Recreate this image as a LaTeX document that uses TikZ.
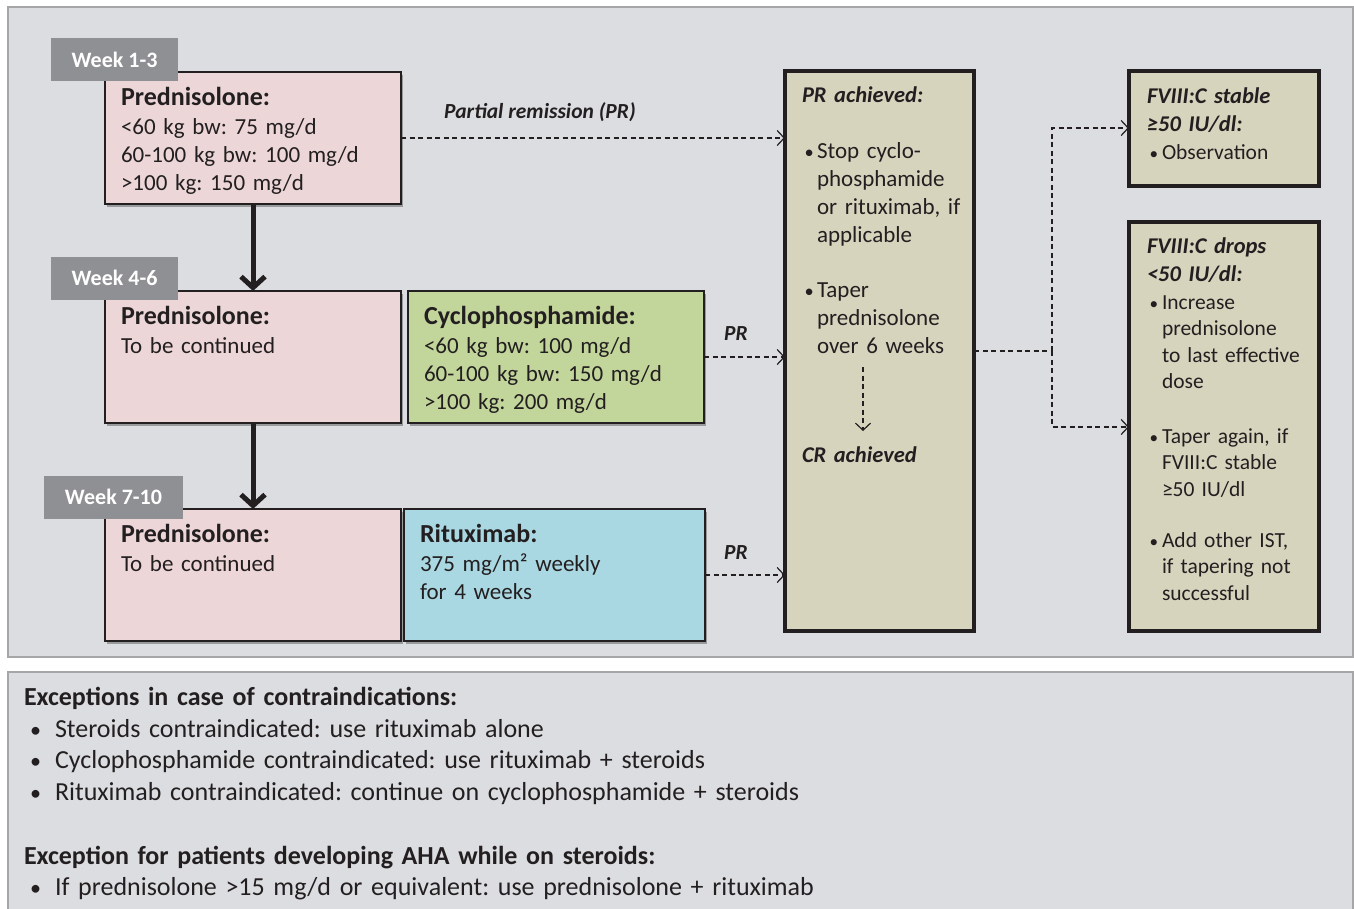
\documentclass[tikz,border=0pt]{standalone}
\usepackage{fontspec}
\setmainfont{Carlito}
\usetikzlibrary{arrows.meta,shadows}
\definecolor{panelbg}{RGB}{220,221,224}
\definecolor{panelline}{RGB}{166,166,168}
\definecolor{weekbg}{RGB}{143,144,148}
\definecolor{pinkbg}{RGB}{236,214,216}
\definecolor{greenbg}{RGB}{194,214,155}
\definecolor{bluebg}{RGB}{170,216,226}
\definecolor{tanbg}{RGB}{215,212,190}
\definecolor{ink}{RGB}{35,31,32}
\newcommand{\fsz}[2]{\fontsize{#1pt}{#2pt}\selectfont}
\newcommand{\bul}{\leavevmode\llap{\makebox[13pt][l]{\hspace{0.5pt}\scalebox{0.8}{•}}}}
\newcommand{\bbul}{\leavevmode\llap{\makebox[25pt][l]{\scalebox{0.85}{•}}}}
\frenchspacing
\begin{document}
\begin{tikzpicture}[x=1pt,y=-1pt,
  panel/.style={draw=panelline,line width=1.5pt,fill=panelbg,anchor=north west,inner sep=0pt,outer sep=0pt},
  week/.style={fill=weekbg,text=white,font=\fsz{22}{26}\bfseries,minimum height=43pt,inner sep=0pt,outer sep=0pt},
  drug/.style={draw=ink,line width=1.3pt,inner sep=0pt,outer sep=0pt,anchor=north west,
     drop shadow={shadow xshift=2pt,shadow yshift=-2.5pt,opacity=0.3,fill=black}},
  result/.style={draw=ink,line width=4pt,fill=tanbg,inner sep=0pt,outer sep=0pt,anchor=north west},
  txt/.style={anchor=base west,inner sep=0pt,outer sep=0pt,align=left,text=ink,text width=#1},
  txt/.default=300pt,
  bigarrow/.style={line width=5pt,draw=ink,-{Straight Barb[length=11pt,width=24pt]}},
  darr/.style={line width=1.2pt,draw=ink,dash pattern=on 5pt off 3.5pt,-{Straight Barb[length=7pt,width=15pt,line width=1.2pt]}},
  dline/.style={line width=1.2pt,draw=ink,dash pattern=on 5pt off 3.5pt},
  lbl/.style={anchor=base west,inner sep=0pt,text=ink,font=\fsz{21.5}{24}\bfseries\itshape},
  hd/.style={txt=#1,font=\fsz{26}{29}\bfseries},
  bd/.style={txt=#1,font=\fsz{23}{28}},
  rhd/.style={txt=#1,font=\fsz{22.5}{28}\bfseries\itshape},
  rbd/.style={txt=#1,font=\fsz{21.5}{26.5}},
]
\useasboundingbox (0,0) rectangle (1354,908);
\fill[white] (0,0) rectangle (1354,908);
\node[panel,minimum width=1345pt,minimum height=650pt] (top) at (8,7) {};
\node[panel,minimum width=1345pt,minimum height=260pt] (bot) at (8,672) {};

% drug boxes
\node[drug,fill=pinkbg,minimum width=296pt,minimum height=132pt] (p1) at (105,72) {};
\node[drug,fill=pinkbg,minimum width=296pt,minimum height=132pt] (p2) at (105,291) {};
\node[drug,fill=pinkbg,minimum width=296pt,minimum height=132pt] (p3) at (105,509) {};
\node[drug,fill=greenbg,minimum width=296pt,minimum height=132pt] (g) at (408,291) {};
\node[drug,fill=bluebg,minimum width=301pt,minimum height=132pt] (b) at (404,509) {};

% result boxes
\node[result,minimum width=189pt,minimum height=560pt] (c) at (785,71) {};
\node[result,minimum width=190pt,minimum height=115pt] (ra) at (1129,71) {};
\node[result,minimum width=190pt,minimum height=409pt] (rb) at (1129,222) {};

% week labels
\node[week,minimum width=127pt] (w1) at (114.5,59.5) {Week 1-3};
\node[week,minimum width=127pt] (w2) at (114.5,278) {Week 4-6};
\node[week,minimum width=139pt] (w3) at (113.5,497) {Week 7-10};

% drug texts
\node[hd] (p1h) at (121,105) {Prednisolone:};
\node[bd] (p1t) at (121,134) {<60 kg bw: 75 mg/d\\60-100 kg bw: 100 mg/d\\>100 kg: 150 mg/d};
\node[hd] (p2h) at (121,324) {Prednisolone:};
\node[bd] (p2t) at (121,353) {To be continued};
\node[hd] (p3h) at (121,542) {Prednisolone:};
\node[bd] (p3t) at (121,571) {To be continued};
\node[hd] (gh) at (424,324) {Cyclophosphamide:};
\node[bd] (gt) at (424,353) {<60 kg bw: 100 mg/d\\60-100 kg bw: 150 mg/d\\>100 kg: 200 mg/d};
\node[hd] (bh) at (420,542) {Rituximab:};
\node[bd] (bt) at (420,571) {375 mg/m² weekly\\for 4 weeks};

% central texts
\node[rhd=170pt] (ch) at (802,102) {PR achieved:};
\node[bd=150pt] (ct) at (817,158) {\bul Stop cyclo-\\phosphamide\\or rituximab, if\\applicable\\[27pt]\bul Taper\\prednisolone\\over 6 weeks};
\node[rhd=170pt] (cr) at (802,462) {CR achieved};
\coordinate (tp) at (863,367);
\coordinate (crtop) at (863,431);
\draw[darr] (tp) -- (crtop);

% right texts
\node[rhd=170pt] (rah) at (1147,103) {FVIII:C stable\\≥50 IU/dl:};
\node[rbd=150pt] (rat) at (1162,159) {\bul Observation};
\node[rhd=170pt] (rbh) at (1147,253) {FVIII:C drops\\<50 IU/dl:};
\node[rbd=150pt] (rbt) at (1162,309) {\bul Increase\\prednisolone\\to last effective\\dose\\[28pt]\bul Taper again, if\\FVIII:C stable\\≥50 IU/dl\\[24.5pt]\bul Add other IST,\\if tapering not\\successful};

% thick arrows
\draw[bigarrow] (p1.south) -- (p2.north);
\draw[bigarrow] (p2.south) -- (p3.north);

% dashed arrows
\draw[darr] (p1.east) -- (p1.east -| c.west);
\draw[darr] (g.east) -- (g.east -| c.west);
\draw[darr] (b.east) -- (b.east -| c.west);
\node[lbl] (l1) at (444,118) {Partial remission (PR)};
\node[lbl] (l2) at (724,340) {PR};
\node[lbl] (l3) at (724,559) {PR};

\coordinate (split) at (1052,351);
\draw[dline] (c.east |- split) -- (split);
\draw[darr] (split) |- (ra.west |- 0,128);
\draw[darr] (split) |- (rb.west |- 0,427);

% bottom panel
\node[txt=1200pt,font=\fsz{26}{32}\bfseries] (e1) at (24,705) {Exceptions in case of contraindications:};
\node[txt=1200pt,font=\fsz{26}{31.5}] (e1t) at (55,737) {\bbul Steroids contraindicated: use rituximab alone\\\bbul Cyclophosphamide contraindicated: use rituximab + steroids\\\bbul Rituximab contraindicated: continue on cyclophosphamide + steroids};
\node[txt=1200pt,font=\fsz{26}{32}\bfseries] (e2) at (24,864) {Exception for patients developing AHA while on steroids:};
\node[txt=1200pt,font=\fsz{26}{31.5}] (e2t) at (55,895) {\bbul If prednisolone >15 mg/d or equivalent: use prednisolone + rituximab};
\end{tikzpicture}
\end{document}
